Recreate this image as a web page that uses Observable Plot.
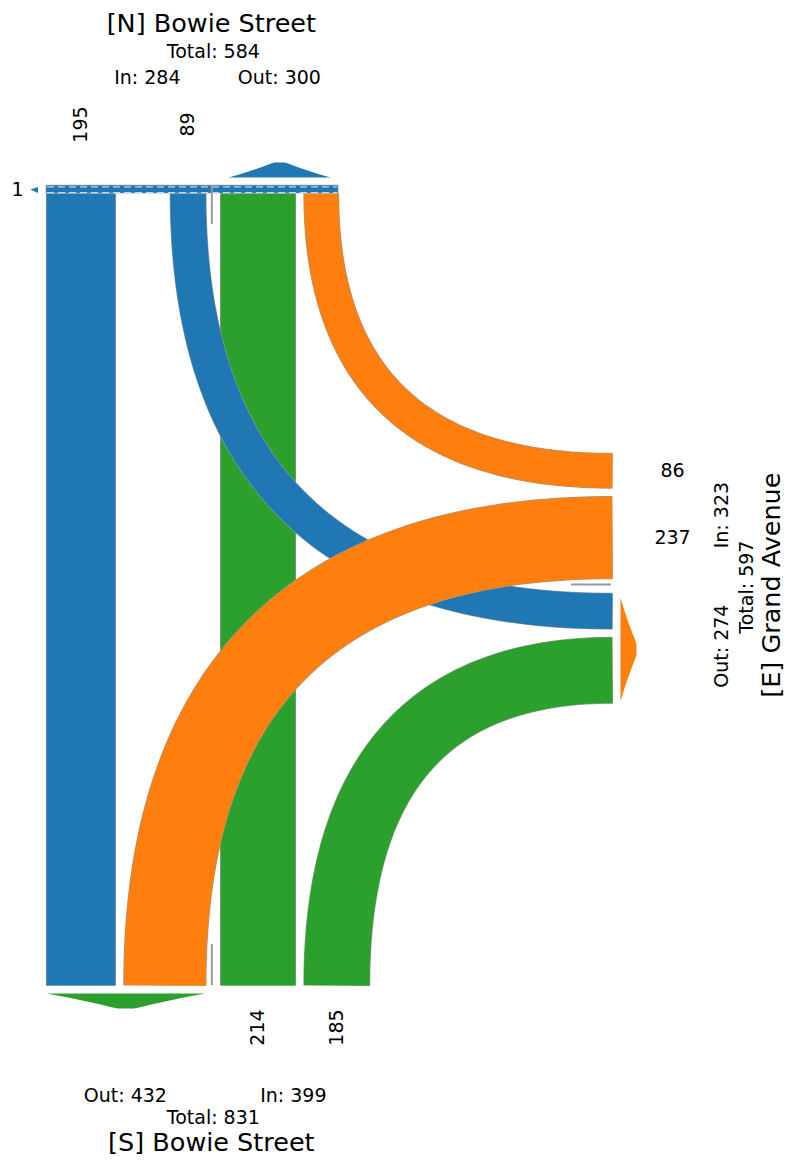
<!DOCTYPE html>
<html>
<head>
<meta charset="utf-8">
<script src="https://cdn.jsdelivr.net/npm/d3@7"></script>
<script src="https://cdn.jsdelivr.net/npm/@observablehq/plot@0.6"></script>
<style>
  html, body { margin: 0; padding: 0; background: #fff; }
  #chart svg { display: block; }
</style>
</head>
<body>
<div id="chart"></div>
<script>
// ---------------- DATA ----------------
const approachIds    = ["N", "E", "S"];
const approachNames  = ["[N] Bowie Street", "[E] Grand Avenue", "[S] Bowie Street"];
const approachColors = ["#1f77b4", "#ff7f0e", "#2ca02c"];

const flowFrom  = ["N", "N", "N", "E", "E", "S", "S"];
const flowTo    = ["S", "E", "N", "N", "S", "N", "E"];
const flowCount = [195, 89, 1, 86, 237, 214, 185];

// ---------------- LAYOUT ----------------
const W = 789, H = 1162;
const bandWidth = d3.scaleLinear().domain([0, 100]).range([7.6, 39.0]); // band thickness per vehicle count
const laneGap = 8.5, medianWidth = 14.8, sepOff = 6;
const nEdgeY = 193, sEdgeY = 985, eEdgeX = 612;
const roadLeftX = 46, eTopY = 453;
const FONT = "DejaVu Sans";

const flows = flowFrom.map((f, i) => ({from: f, to: flowTo[i], count: flowCount[i]}));
const find = (a, b) => flows.find(d => d.from === a && d.to === b);
const colorOf = id => approachColors[approachIds.indexOf(id)];
const bw = f => bandWidth(f.count);

const fNS = find("N","S"), fNE = find("N","E"), fNN = find("N","N"),
      fEN = find("E","N"), fES = find("E","S"), fSN = find("S","N"), fSE = find("S","E");

function stack(start, list) {
  let p = start; const out = new Map();
  list.forEach((f, k) => { if (k) p += laneGap; out.set(f, [p, p + bw(f)]); p += bw(f); });
  return out;
}
const sOut = stack(roadLeftX, [fNS, fES]);
const sOutRight = sOut.get(fES)[1];
const medianRight = sOutRight + medianWidth;
const nIn = new Map([[fNS, sOut.get(fNS)], [fNE, [sOutRight - bw(fNE), sOutRight]]]);
const nOut = stack(medianRight, [fSN, fEN]);
const sIn = stack(medianRight, [fSN, fSE]);
const eIn = stack(eTopY, [fEN, fES]);
const eInBottom = eIn.get(fES)[1];
const eOut = stack(eInBottom + medianWidth, [fNE, fSE]);
const mid = r => (r[0] + r[1]) / 2;
const mx = sOutRight + 7.5, my = eInBottom + 7;

// geometry of each band (centre line)
function quad(p0, c, p2, n = 80) {
  return d3.range(n + 1).map(i => {
    const t = i / n, u = 1 - t;
    return {x: u*u*p0[0] + 2*u*t*c[0] + t*t*p2[0], y: u*u*p0[1] + 2*u*t*c[1] + t*t*p2[1]};
  });
}
function path(f) {
  if (f === fNS) { const x = mid(nIn.get(f)); return [{x, y: nEdgeY}, {x, y: sEdgeY}]; }
  if (f === fSN) { const x = mid(sIn.get(f)); return [{x, y: sEdgeY}, {x, y: nEdgeY}]; }
  if (f === fNE) { const x = mid(nIn.get(f)), y = mid(eOut.get(f)); return quad([x, nEdgeY], [x, y], [eEdgeX, y]); }
  if (f === fEN) { const x = mid(nOut.get(f)), y = mid(eIn.get(f)); return quad([eEdgeX, y], [x, y], [x, nEdgeY]); }
  if (f === fES) { const x = mid(sOut.get(f)), y = mid(eIn.get(f)); return quad([eEdgeX, y], [x, y], [x, sEdgeY]); }
  if (f === fSE) { const x = mid(sIn.get(f)), y = mid(eOut.get(f)); return quad([x, sEdgeY], [x, y], [eEdgeX, y]); }
}
const drawOrder = [fNS, fSN, fNE, fEN, fSE, fES];
const bandMarks = drawOrder.flatMap(f => {
  const pts = path(f);
  return [
    Plot.line(pts, {x: "x", y: "y", stroke: "#9a9a9a", strokeWidth: bw(f) + 1.2, strokeLinecap: "butt", strokeLinejoin: "round", curve: "linear"}),
    Plot.line(pts, {x: "x", y: "y", stroke: colorOf(f.from), strokeWidth: bw(f), strokeLinecap: "butt", strokeLinejoin: "round", curve: "linear"})
  ];
});

// U-turn band
const nOutRight = nOut.get(fEN)[1];
const uTop = nEdgeY - bw(fNN);
const uturn = [{x1: roadLeftX, x2: nOutRight, y1: uTop, y2: nEdgeY}];

// arrows (direction of outgoing traffic per approach)
const profile = [[0,0],[0.12,0.24],[0.24,0.5],[0.34,0.74],[0.41,0.92],[0.45,1],[0.55,1],[0.59,0.92],[0.66,0.74],[0.76,0.5],[0.88,0.24],[1,0]];
function arrowH(a, b, base, depth) { return profile.map(([t, d]) => ({x: a + t * (b - a), y: base + d * depth})); }
function arrowV(a, b, base, depth) { return profile.map(([t, d]) => ({x: base + d * depth, y: a + t * (b - a)})); }
const nOutR = [nOut.get(fSN)[0], nOutRight];
const sOutR = [sOut.get(fNS)[0], sOutRight];
const eOutR = [eOut.get(fNE)[0], eOut.get(fSE)[1]];
const arrows = [
  {pts: arrowH(nOutR[0] + 8, nOutR[1] - 8, uTop - 8, -15), fill: colorOf("N")},
  {pts: arrowH(sOutR[0], sOutR[1] - 0.5, sEdgeY + 8, 15), fill: colorOf("S")},
  {pts: arrowV(eOutR[0] + 4.5, eOutR[1] - 2, eEdgeX + 8, 16), fill: colorOf("E")}
];
const uArrow = [{x: roadLeftX - 16, y: mid([uTop, nEdgeY])}, {x: roadLeftX - 8.5, y: uTop + 1.5}, {x: roadLeftX - 8.5, y: nEdgeY - 0.5}];

// separators
const sepX = sOutRight + sepOff, sepY = eInBottom + sepOff;

// totals
const sum = arr => d3.sum(arr, f => f.count);
const totIn  = id => sum(flows.filter(f => f.from === id && f.to !== id));
const totOut = id => sum(flows.filter(f => f.to === id && f.from !== id));

// labels
const laneLabelsTop = [fNS, fNE].map(f => ({x: mid(nIn.get(f)), y: nEdgeY - 69, text: String(f.count)}));
const laneLabelsBottom = [fSN, fSE].map(f => ({x: mid(sIn.get(f)), y: sEdgeY + 42, text: String(f.count)}));
const laneLabelsRight = [fEN, fES].map(f => ({x: eEdgeX + 60, y: mid(eIn.get(f)), text: String(f.count)}));

const nName = approachNames[0], eName = approachNames[1], sName = approachNames[2];
const titleLabels = [
  {x: mx - 2, y: 31, text: nName},
  {x: mx - 2, y: 1150, text: sName}
];
const smallLabels = [
  {x: mx, y: 57, text: `Total: ${totIn("N") + totOut("N")}`},
  {x: mx - 66, y: 83, text: `In: ${totIn("N")}`},
  {x: mx + 66, y: 83, text: `Out: ${totOut("N")}`},
  {x: mx - 88, y: 1101, text: `Out: ${totOut("S")}`},
  {x: mx + 80, y: 1101, text: `In: ${totIn("S")}`},
  {x: mx, y: 1123, text: `Total: ${totIn("S") + totOut("S")}`}
];
const eSmall = [
  {x: 727, y: my - 70.5, text: `In: ${totIn("E")}`},
  {x: 727, y: my + 60.5, text: `Out: ${totOut("E")}`},
  {x: 752, y: my + 1.5, text: `Total: ${totIn("E") + totOut("E")}`}
];
const eTitle = [{x: 779, y: my - 0.5, text: eName}];

const plot = Plot.plot({
  width: W, height: H, margin: 0,
  x: {domain: [0, W], range: [0, W], axis: null},
  y: {domain: [0, H], range: [0, H], axis: null},
  style: {fontFamily: FONT, background: "white", color: "black"},
  marks: [
    ...bandMarks,
    // U-turn band
    Plot.rect(uturn, {x1: "x1", x2: "x2", y1: "y1", y2: "y2", fill: colorOf("N"), stroke: "#9a9a9a", strokeWidth: 0.6}),
    Plot.ruleY(uturn, {y: d => d.y1 + 1.2, x1: d => d.x1 + 1, x2: d => d.x2 - 1, stroke: "#c9d6e3", strokeWidth: 1.3, strokeDasharray: "7,4"}),
    Plot.ruleY(uturn, {y: d => d.y2 - 0.8, x1: d => d.x1 + 1, x2: d => d.x2 - 1, stroke: "#c9d6e3", strokeWidth: 1.3, strokeDasharray: "7,4"}),
    Plot.line(uArrow, {x: "x", y: "y", fill: colorOf("N"), stroke: "none"}),
    // arrows
    ...arrows.map(a => Plot.line(a.pts, {x: "x", y: "y", fill: a.fill, stroke: "none", curve: "linear"})),
    // separators
    Plot.ruleX([sepX], {y1: uTop, y2: nEdgeY + 31, stroke: "#999", strokeWidth: 2}),
    Plot.ruleX([sepX], {y1: sEdgeY - 41, y2: sEdgeY, stroke: "#999", strokeWidth: 2}),
    Plot.ruleY([sepY], {x1: eEdgeX - 41, x2: eEdgeX - 1, stroke: "#999", strokeWidth: 2}),
    // labels
    Plot.text(laneLabelsTop, {x: "x", y: "y", text: "text", rotate: -90, fontSize: 19, textAnchor: "middle", lineAnchor: "middle"}),
    Plot.text(laneLabelsBottom, {x: "x", y: "y", text: "text", rotate: -90, fontSize: 19, textAnchor: "middle", lineAnchor: "middle"}),
    Plot.text(laneLabelsRight, {x: "x", y: "y", text: "text", fontSize: 19, textAnchor: "middle", lineAnchor: "middle"}),
    Plot.text([{x: roadLeftX - 29, y: mid([uTop, nEdgeY]), text: String(fNN.count)}], {x: "x", y: "y", text: "text", fontSize: 19, textAnchor: "middle", lineAnchor: "middle"}),
    Plot.text(titleLabels, {x: "x", y: "y", text: "text", fontSize: 25.5, textAnchor: "middle", lineAnchor: "bottom"}),
    Plot.text(smallLabels, {x: "x", y: "y", text: "text", fontSize: 19, textAnchor: "middle", lineAnchor: "bottom"}),
    Plot.text(eSmall, {x: "x", y: "y", text: "text", rotate: -90, fontSize: 19, textAnchor: "middle", lineAnchor: "bottom"}),
    Plot.text(eTitle, {x: "x", y: "y", text: "text", rotate: -90, fontSize: 25.5, textAnchor: "middle", lineAnchor: "bottom"})
  ]
});
document.getElementById("chart").appendChild(plot);
</script>
</body>
</html>
